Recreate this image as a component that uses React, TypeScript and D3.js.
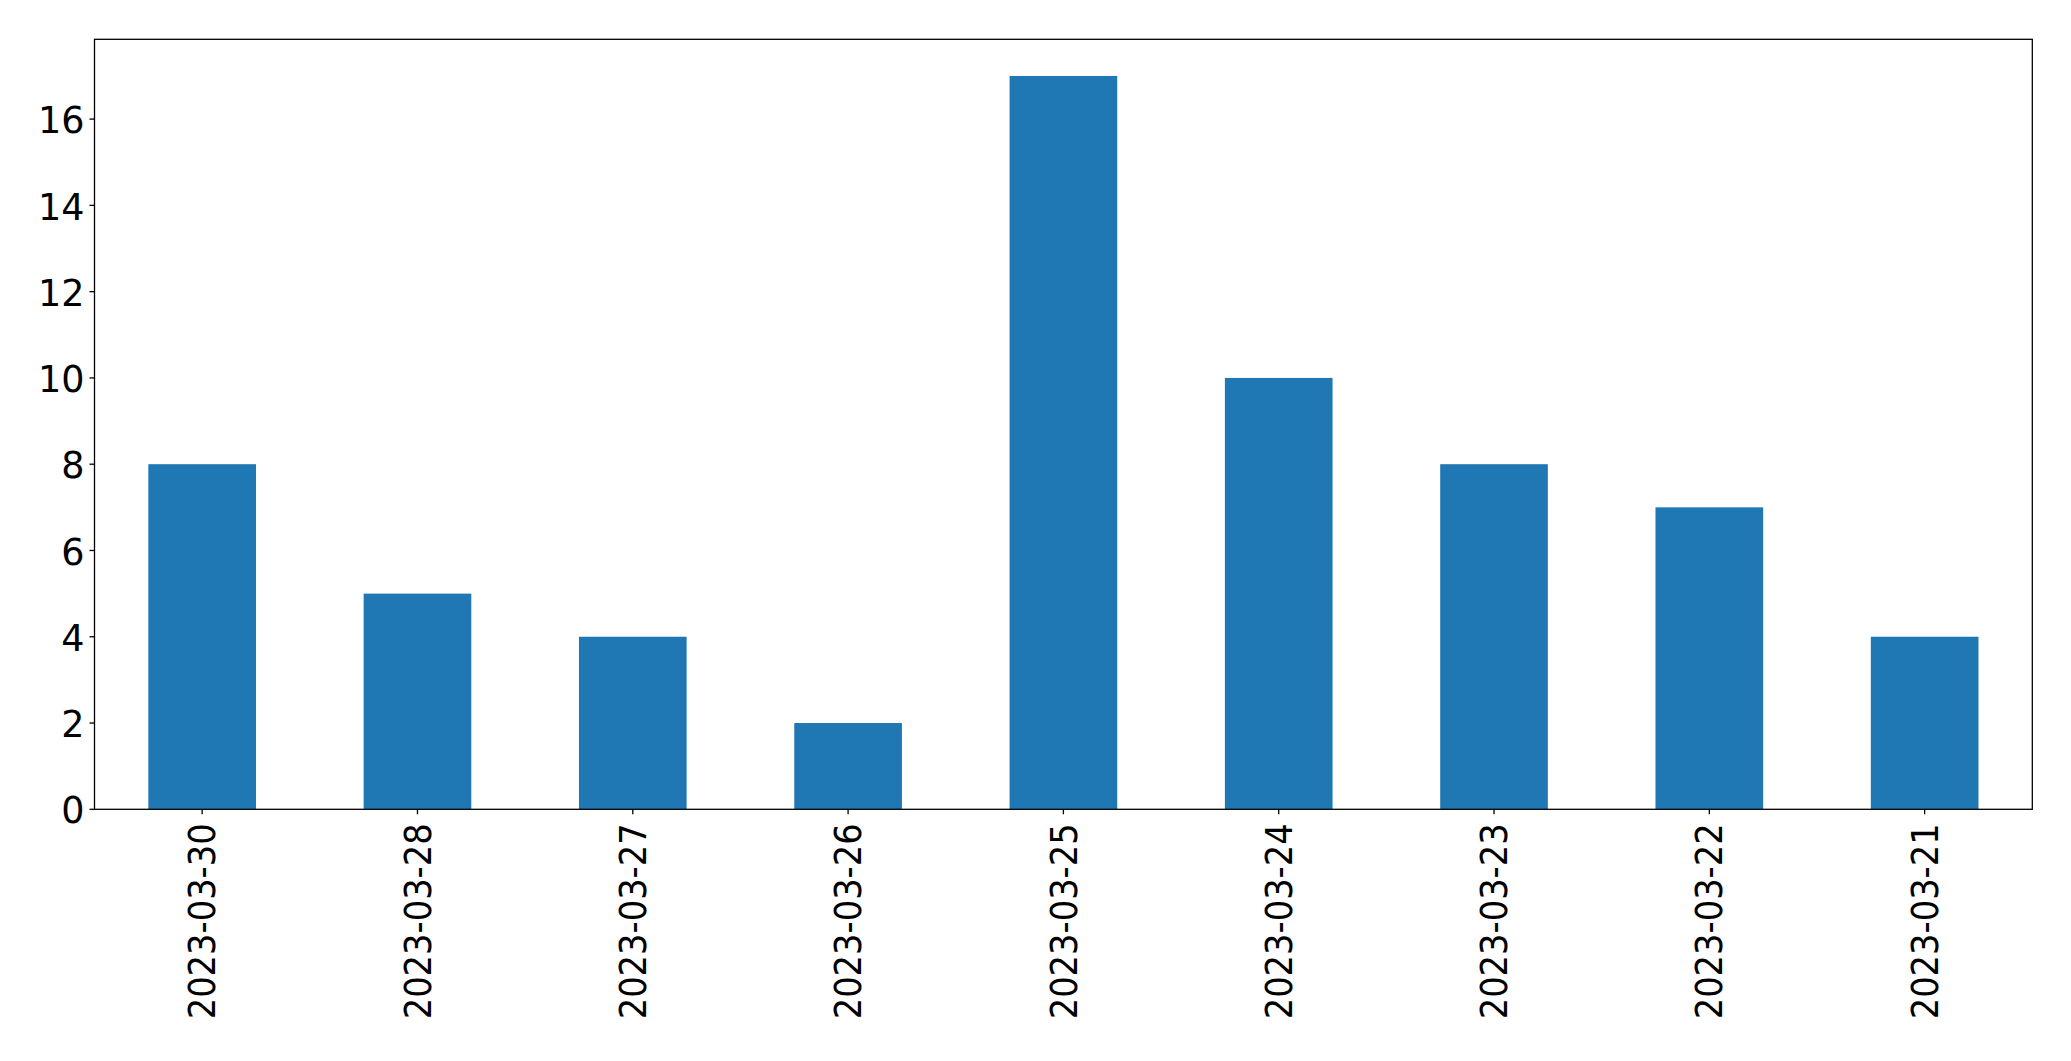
import React from "react";
import * as d3 from "d3";

const categories = ["2023-03-30", "2023-03-28", "2023-03-27", "2023-03-26", "2023-03-25", "2023-03-24", "2023-03-23", "2023-03-22", "2023-03-21"];
const values = [8, 5, 4, 2, 17, 10, 8, 7, 4];
const yTicks = [0, 2, 4, 6, 8, 10, 12, 14, 16];

const W = 2071, H = 1061;
const left = 94.5, right = 2032.3, top = 39.3, bottom = 809.3;

export default function App() {
  const x = d3.scaleLinear().domain([-0.5, categories.length - 0.5]).range([left, right]);
  const y = d3.scaleLinear().domain([0, 17 * 1.05]).range([bottom, top]);
  const font = "DejaVu Sans, sans-serif";
  return (
    <svg width={W} height={H} style={{ position: "absolute", left: 0, top: 0, background: "#fff" }}>
      <rect x={0} y={0} width={W} height={H} fill="#fff" />
      {values.map((v, i) => (
        <rect key={i} x={x(i - 0.25)} y={y(v)} width={x(i + 0.25) - x(i - 0.25)} height={y(0) - y(v)} fill="#1f77b4" />
      ))}
      <rect x={left} y={top} width={right - left} height={bottom - top} fill="none" stroke="#000" strokeWidth={1.3} />
      {yTicks.map((t) => (
        <g key={t}>
          <line x1={left - 5} x2={left} y1={y(t)} y2={y(t)} stroke="#000" strokeWidth={1.3} />
          <text x={left - 10} y={y(t) + 1} dy="0.36em" textAnchor="end" fontFamily={font} fontSize={36.5} fill="#000">{t}</text>
        </g>
      ))}
      {categories.map((c, i) => (
        <g key={c}>
          <line x1={x(i)} x2={x(i)} y1={bottom} y2={bottom + 5} stroke="#000" strokeWidth={1.3} />
          <text transform={`translate(${x(i)},${bottom + 14}) rotate(-90)`} dy="0.36em" textAnchor="end" fontFamily={font} fontSize={36.5} textLength={196} lengthAdjust="spacingAndGlyphs" fill="#000">{c}</text>
        </g>
      ))}
    </svg>
  );
}
